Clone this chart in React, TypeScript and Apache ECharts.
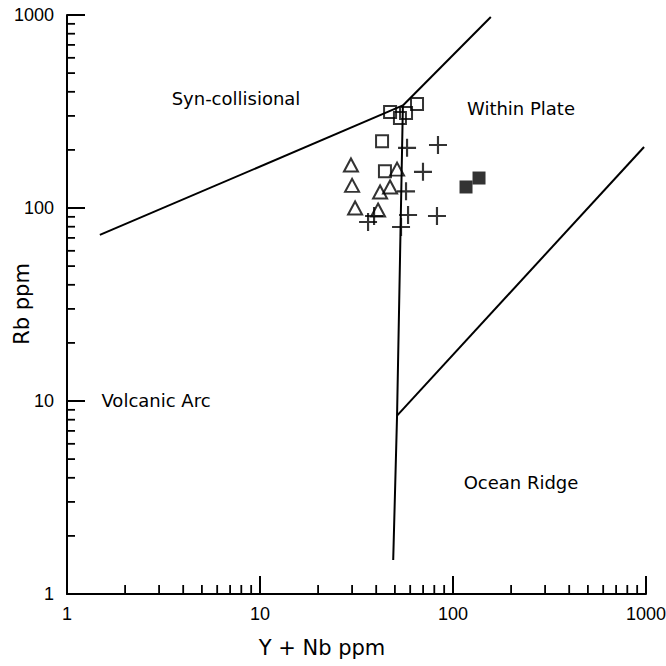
import React, { useEffect, useRef } from "react";
import * as echarts from "echarts";

// Data (Y+Nb ppm, Rb ppm)
const openSquares: [number, number][] = [
  [47.2, 314], [53.1, 293], [57.1, 311], [65.1, 346], [42.9, 222], [44.4, 155],
];
const openTriangles: [number, number][] = [
  [29.6, 167], [30.0, 131], [31.1, 100], [41.9, 121], [47.2, 128.5], [51.3, 159], [40.9, 97.6],
];
const crosses: [number, number][] = [
  [57.8, 205], [83.6, 212], [69.9, 154], [57.1, 122], [58.5, 92], [82.6, 90.9], [53.8, 79.7], [39.0, 90.9], [36.3, 84.6],
];
const filledSquares: [number, number][] = [
  [116.8, 128.5], [136.4, 143],
];

// Discrimination boundaries
const boundarySynColVA: [number, number][] = [[1.48, 72.5], [55, 340]];
const boundarySynColWP: [number, number][] = [[55, 340], [157, 977]];
const boundaryVAWP: [number, number][] = [[55, 340], [51.3, 8.4], [49, 1.5]];
const boundaryWPOR: [number, number][] = [[51.3, 8.4], [977, 207]];

const decades = [1, 10, 100];
const minorMultipliers = [2, 3, 4, 5, 6, 7, 8, 9];
const minorTickValues: number[] = [];
decades.forEach((d) => minorMultipliers.forEach((m) => minorTickValues.push(d * m)));

const xAxisTitle = "Y + Nb ppm";
const yAxisTitle = "Rb ppm";

const regionLabels = [
  { text: "Syn-collisional", x: 236, y: 98 },
  { text: "Within Plate", x: 521, y: 108 },
  { text: "Volcanic Arc", x: 156, y: 400 },
  { text: "Ocean Ridge", x: 521, y: 482 },
];

const crossPath =
  "path://M-1.2,-10 L1.2,-10 L1.2,-1.2 L10,-1.2 L10,1.2 L1.2,1.2 L1.2,10 L-1.2,10 L-1.2,1.2 L-10,1.2 L-10,-1.2 L-1.2,-1.2 Z";

export default function App() {
  const ref = useRef<HTMLDivElement>(null);
  useEffect(() => {
    if (!ref.current) return;
    const chart = echarts.init(ref.current, null, { renderer: "svg" });
    const lineStyle = { color: "#000", width: 2 };
    const boundary = (data: [number, number][]) => ({
      type: "line",
      data,
      symbol: "none",
      lineStyle,
      z: 2,
      silent: true,
    });
    const axisCommon = {
      type: "log",
      logBase: 10,
      min: 1,
      max: 1000,
      splitLine: { show: false },
      axisLine: { show: true, lineStyle: { color: "#000", width: 2 } },
      axisTick: { show: true, inside: true, length: 18, lineStyle: { color: "#000", width: 2 } },
      axisLabel: {
        fontFamily: "Liberation Sans",
        fontSize: 18,
        color: "#000",
        margin: 11,
        formatter: (v: number) => String(Math.round(v)),
      },
    };
    const titleStyle = {
      fontFamily: "DejaVu Sans",
      fontSize: 21,
      fill: "#000",
      align: "center",
      verticalAlign: "middle",
    };
    chart.setOption({
      animation: false,
      backgroundColor: "#fff",
      grid: { left: 67, right: 20, top: 15, bottom: 72, outerBoundsMode: "none", containLabel: false },
      xAxis: { ...axisCommon },
      yAxis: { ...axisCommon, axisLabel: { ...axisCommon.axisLabel, margin: 13 } },
      graphic: [
        ...regionLabels.map((l) => ({
          type: "text",
          x: l.x,
          y: l.y,
          style: {
            text: l.text,
            fontFamily: "DejaVu Sans",
            fontSize: 18,
            fill: "#000",
            align: "center",
            verticalAlign: "middle",
          },
        })),
        { type: "text", x: 322, y: 648, style: { ...titleStyle, text: xAxisTitle } },
        {
          type: "text",
          x: 22,
          y: 304,
          rotation: Math.PI / 2,
          style: { ...titleStyle, text: yAxisTitle },
        },
      ],
      series: [
        boundary(boundarySynColVA),
        boundary(boundarySynColWP),
        boundary(boundaryVAWP),
        boundary(boundaryWPOR),
        {
          type: "custom",
          data: minorTickValues.map((v) => [v, 1]),
          renderItem: (_p: any, api: any) => {
            const pt = api.coord([api.value(0), 1]);
            return {
              type: "line",
              shape: { x1: pt[0], y1: pt[1], x2: pt[0], y2: pt[1] - 9 },
              style: { stroke: "#000", lineWidth: 1.8 },
            };
          },
          silent: true,
          z: 3,
        },
        {
          type: "custom",
          data: minorTickValues.map((v) => [1, v]),
          renderItem: (_p: any, api: any) => {
            const pt = api.coord([1, api.value(1)]);
            return {
              type: "line",
              shape: { x1: pt[0], y1: pt[1], x2: pt[0] + 8, y2: pt[1] },
              style: { stroke: "#000", lineWidth: 1.8 },
            };
          },
          silent: true,
          z: 3,
        },
        {
          type: "scatter",
          data: openSquares,
          symbol: "rect",
          symbolSize: 12,
          itemStyle: { color: "rgba(0,0,0,0)", borderColor: "#000", borderWidth: 2 },
          z: 4,
        },
        {
          type: "scatter",
          data: openTriangles,
          symbol: "triangle",
          symbolSize: [14, 13],
          itemStyle: { color: "rgba(0,0,0,0)", borderColor: "#000", borderWidth: 2 },
          z: 4,
        },
        {
          type: "scatter",
          data: crosses,
          symbol: crossPath,
          symbolSize: [18, 18],
          itemStyle: { color: "#000" },
          z: 4,
        },
        {
          type: "scatter",
          data: filledSquares,
          symbol: "rect",
          symbolSize: 13,
          itemStyle: { color: "#000" },
          z: 4,
        },
      ],
    });
    return () => chart.dispose();
  }, []);
  return (
    <div
      ref={ref}
      style={{ position: "fixed", left: 0, top: 0, width: 666, height: 666 }}
    />
  );
}
